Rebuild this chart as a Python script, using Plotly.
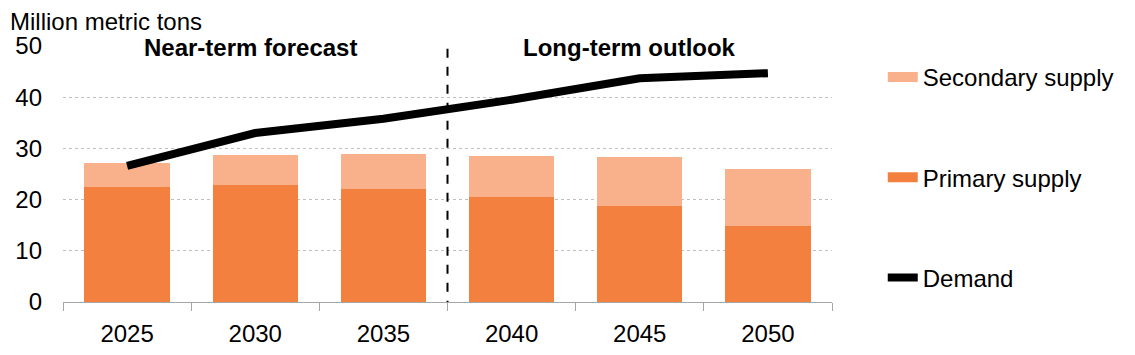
import plotly.graph_objects as go

years = ["2025", "2030", "2035", "2040", "2045", "2050"]
primary = [22.4, 22.9, 22.1, 20.5, 18.8, 14.8]
secondary = [4.7, 5.8, 6.9, 8.1, 9.5, 11.1]
demand = [26.6, 33.0, 35.8, 39.5, 43.7, 44.7]
y_ticks = [0, 10, 20, 30, 40, 50]

C_PRI = "#F4803F"
C_SEC = "#F9B18B"
FONT = "Liberation Sans, Arial, sans-serif"
FS = 24

fig = go.Figure()
fig.add_trace(go.Bar(x=years, y=primary, marker=dict(color=C_PRI, line=dict(width=0)),
                     name="Primary supply", showlegend=False))
fig.add_trace(go.Bar(x=years, y=secondary, marker=dict(color=C_SEC, line=dict(width=0)),
                     name="Secondary supply", showlegend=False))
fig.add_trace(go.Scatter(x=years, y=demand, mode="lines", name="Demand",
                         line=dict(color="black", width=8), showlegend=False))

# legend entries
fig.add_trace(go.Scatter(x=[None], y=[None], mode="lines", name="Secondary supply",
                         line=dict(color=C_SEC, width=14), legendgroup="a"))
fig.add_trace(go.Scatter(x=[None], y=[None], mode="lines", name="Primary supply",
                         line=dict(color=C_PRI, width=14), legendgroup="b"))
fig.add_trace(go.Scatter(x=[None], y=[None], mode="lines", name="Demand",
                         line=dict(color="black", width=8), legendgroup="c"))

fig.add_shape(type="line", xref="x", yref="y", x0=2.5, x1=2.5, y0=-1.5, y1=50,
              line=dict(color="black", width=2, dash="dash"))

fig.add_annotation(text="<b>Near-term forecast</b>", xref="x", yref="y", x=0.96, y=49.8,
                   showarrow=False, font=dict(family=FONT, size=FS, color="black"),
                   xanchor="center", yanchor="middle")
fig.add_annotation(text="<b>Long-term outlook</b>", xref="x", yref="y", x=3.92, y=49.8,
                   showarrow=False, font=dict(family=FONT, size=FS, color="black"),
                   xanchor="center", yanchor="middle")
fig.add_annotation(text="Million metric tons", xref="paper", yref="paper",
                   x=-0.0715, y=1.094, xanchor="left", yanchor="middle", showarrow=False,
                   font=dict(family=FONT, size=FS, color="black"))

fig.update_layout(
    width=1127, height=347,
    margin=dict(l=55, r=303, t=38, b=53, autoexpand=False),
    barmode="stack", bargap=0.335,
    plot_bgcolor="white", paper_bgcolor="white",
    font=dict(family=FONT, size=FS, color="black"),
    legend=dict(x=1.066, y=0.965, xanchor="left", yanchor="top",
                tracegroupgap=66, font=dict(family=FONT, size=FS, color="black"),
                bgcolor="rgba(0,0,0,0)"),
    showlegend=True,
)
fig.update_xaxes(type="category", categoryorder="array", categoryarray=years,
                 showline=True, linecolor="#a6a6a6", linewidth=1, automargin=False,
                 ticks="outside", tickson="boundaries", ticklen=8, tickcolor="#a6a6a6",
                 showgrid=False, ticklabelstandoff=10, range=[-0.5, 5.5])
fig.update_yaxes(range=[0, 50], tickvals=y_ticks, showgrid=True, gridcolor="#bfbfbf",
                 griddash="dot", gridwidth=1, zeroline=False, showline=False,
                 automargin=False, ticks="", ticklabelstandoff=20)

fig.write_html("out.html")
